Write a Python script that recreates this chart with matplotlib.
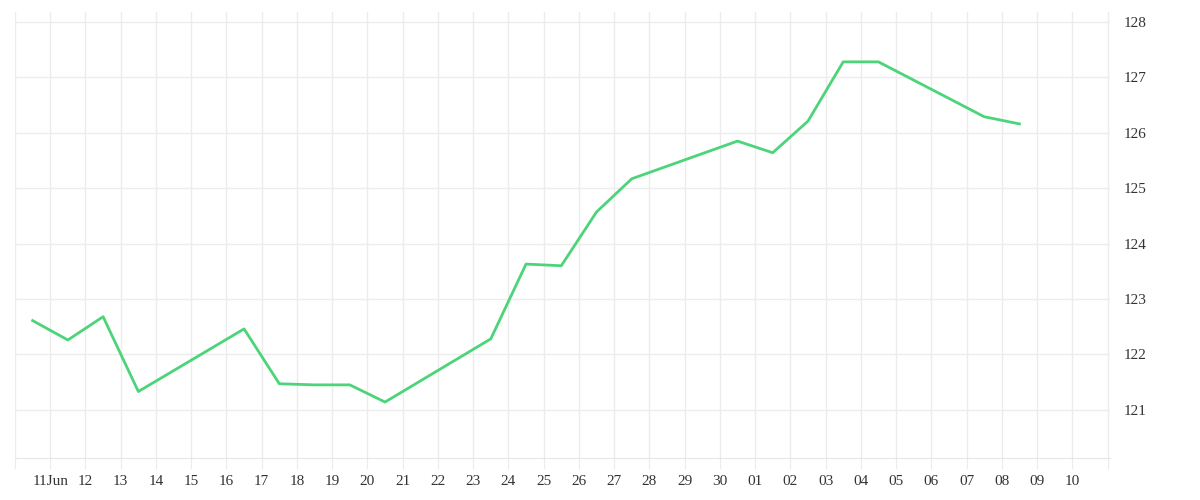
import matplotlib.pyplot as plt

# day offsets from 11 Jun (vertices of the line, midday positions)
days = [-0.5, 0.5, 1.5, 2.5, 5.5, 6.5, 7.5, 8.5, 9.5, 12.5, 13.5, 14.5, 15.5, 16.5,
        19.5, 20.5, 21.5, 22.5, 23.5, 26.5, 27.5]
prices = [122.61, 122.26, 122.68, 121.33, 122.46, 121.47, 121.45, 121.45, 121.14,
          122.28, 123.63, 123.60, 124.57, 125.17, 125.85, 125.64, 126.21, 127.28,
          127.28, 126.29, 126.16]
tick_labels = ['11Jun', '12', '13', '14', '15', '16', '17', '18', '19', '20', '21', '22',
               '23', '24', '25', '26', '27', '28', '29', '30', '01', '02', '03', '04',
               '05', '06', '07', '08', '09', '10']

plt.rcParams['font.family'] = ['Liberation Serif', 'DejaVu Serif']
fig = plt.figure(figsize=(12, 5), dpi=100)
ax = fig.add_axes([0.0125, 0.084, 0.9125, 0.892])

ax.plot(days, prices, color='#4cd47a', lw=2)

ax.set_xlim(-1, 30.07)
ax.set_ylim(120.13, 128.18)
ax.set_xticks(range(-1, 31), minor=False)
ax.set_xticklabels([''] + tick_labels + [''])
ax.set_yticks(range(121, 129))
ax.yaxis.tick_right()
ax.grid(True, color='#ececec', lw=1)
ax.tick_params(axis='x', length=8, color='#ececec', labelsize=11, colors='#333333', pad=4)
ax.tick_params(axis='y', length=0, labelsize=11, colors='#333333', pad=10)
for s in ['top', 'left', 'right']:
    ax.spines[s].set_visible(False)
ax.spines['bottom'].set_color('#e6e6e6')

fig.savefig('out.png')
